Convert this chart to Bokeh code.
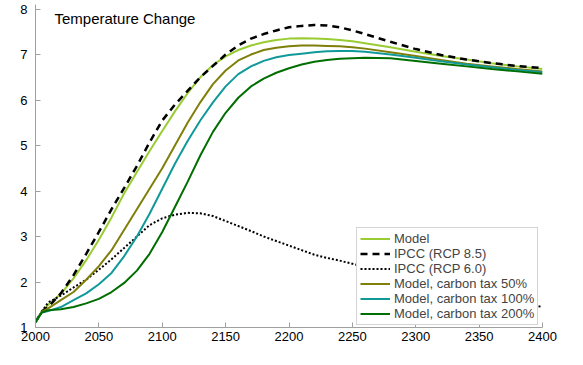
from bokeh.plotting import figure
from bokeh.models import Range1d, Label, Legend, LegendItem, FixedTicker
from bokeh.embed import file_html
from bokeh.resources import INLINE

years = [2000, 2005, 2010, 2020, 2030, 2040, 2050, 2060, 2070, 2080, 2090, 2100,
         2110, 2120, 2130, 2140, 2150, 2160, 2170, 2180, 2190, 2200, 2210, 2220,
         2230, 2240, 2250, 2260, 2280, 2300, 2320, 2340, 2360, 2380, 2400]

model = [1.12, 1.35, 1.5, 1.74, 2.08, 2.48, 2.93, 3.42, 3.95, 4.42, 4.88, 5.32,
         5.75, 6.15, 6.5, 6.77, 6.96, 7.1, 7.2, 7.27, 7.32, 7.35, 7.36, 7.35,
         7.34, 7.32, 7.29, 7.25, 7.16, 7.06, 6.97, 6.89, 6.81, 6.74, 6.68]

ipcc85 = [1.12, 1.35, 1.45, 1.75, 2.15, 2.62, 3.1, 3.6, 4.07, 4.55, 5.07, 5.55,
          5.9, 6.2, 6.5, 6.75, 7.0, 7.2, 7.35, 7.45, 7.53, 7.6, 7.63, 7.65,
          7.64, 7.6, 7.53, 7.45, 7.28, 7.12, 6.99, 6.89, 6.81, 6.75, 6.7]

ipcc60 = [1.12, 1.35, 1.55, 1.7, 1.88, 2.05, 2.27, 2.5, 2.75, 3.0, 3.25, 3.4,
          3.48, 3.52, 3.51, 3.45, 3.34, 3.23, 3.12, 3.0, 2.9, 2.8, 2.7, 2.6,
          2.53, 2.47, 2.4, 2.33, 2.19, 2.05, 1.92, 1.8, 1.68, 1.56, 1.45]

tax50 = [1.12, 1.35, 1.42, 1.6, 1.78, 2.05, 2.35, 2.7, 3.15, 3.6, 4.05, 4.5,
         5.0, 5.5, 5.95, 6.35, 6.65, 6.87, 7.0, 7.1, 7.15, 7.18, 7.2, 7.2,
         7.19, 7.18, 7.16, 7.13, 7.05, 6.97, 6.88, 6.8, 6.74, 6.68, 6.63]

tax100 = [1.12, 1.33, 1.36, 1.45, 1.6, 1.75, 1.95, 2.2, 2.57, 3.0, 3.5, 4.05,
          4.6, 5.1, 5.55, 5.95, 6.3, 6.57, 6.74, 6.86, 6.94, 6.99, 7.02, 7.05,
          7.07, 7.08, 7.08, 7.06, 7.0, 6.93, 6.85, 6.78, 6.72, 6.66, 6.61]

tax200 = [1.12, 1.33, 1.38, 1.4, 1.45, 1.53, 1.63, 1.78, 1.98, 2.25, 2.62, 3.1,
          3.65, 4.2, 4.78, 5.3, 5.72, 6.05, 6.3, 6.47, 6.6, 6.7, 6.78, 6.84,
          6.88, 6.91, 6.92, 6.93, 6.92, 6.86, 6.8, 6.74, 6.68, 6.63, 6.58]

x_ticks = [2000, 2050, 2100, 2150, 2200, 2250, 2300, 2350, 2400]
y_ticks = [1, 2, 3, 4, 5, 6, 7, 8]

FONT = "Liberation Sans"

p = figure(width=575, height=357, output_backend="svg", toolbar_location=None,
           x_range=Range1d(2000, 2400), y_range=Range1d(1, 8.1),
           min_border_left=35, min_border_right=33, min_border_top=4,
           min_border_bottom=30)
p.outline_line_color = None
p.xgrid.visible = False
p.ygrid.visible = False
p.background_fill_color = "white"
p.border_fill_color = "white"

for ax in (p.xaxis[0], p.yaxis[0]):
    ax.axis_line_color = "#a0a0a0"
    ax.major_tick_line_color = "#a0a0a0"
    ax.major_tick_in = 5
    ax.major_tick_out = 0
    ax.minor_tick_line_color = None
    ax.major_label_text_font = FONT
    ax.major_label_text_font_size = "13px"
    ax.major_label_text_color = "black"
p.xaxis.ticker = FixedTicker(ticks=x_ticks)
p.yaxis.ticker = FixedTicker(ticks=y_ticks)
p.xaxis.major_label_standoff = 4
p.yaxis.major_label_standoff = 8

r_model = p.line(years, model, line_color="#99cc33", line_width=2)
r_85 = p.line(years, ipcc85, line_color="black", line_width=2.5, line_dash="7 5")
r_60 = p.line(years, ipcc60, line_color="black", line_width=2, line_dash="2 2")
r_50 = p.line(years, tax50, line_color="#7f7f0a", line_width=2)
r_100 = p.line(years, tax100, line_color="#119999", line_width=2)
r_200 = p.line(years, tax200, line_color="#006e00", line_width=2)

legend = Legend(items=[
    LegendItem(label="Model", renderers=[r_model]),
    LegendItem(label="IPCC (RCP 8.5)", renderers=[r_85]),
    LegendItem(label="IPCC (RCP 6.0)", renderers=[r_60]),
    LegendItem(label="Model, carbon tax 50%", renderers=[r_50]),
    LegendItem(label="Model, carbon tax 100%", renderers=[r_100]),
    LegendItem(label="Model, carbon tax 200%", renderers=[r_200]),
], location=(321, 2))
legend.label_text_font = FONT
legend.label_text_font_size = "13px"
legend.label_height = 15
legend.glyph_height = 15
legend.glyph_width = 30
legend.spacing = 0
legend.padding = 3
legend.margin = 0
legend.label_standoff = 4
legend.border_line_color = "#aaaaaa"
legend.border_line_width = 1
legend.background_fill_color = "white"
legend.background_fill_alpha = 1
p.add_layout(legend, "center")

title = Label(x=2015, y=7.8, text="Temperature Change", text_font=FONT,
              text_font_size="15px", text_color="black", text_baseline="middle")
p.add_layout(title)

open("out.html", "w").write(file_html(p, INLINE))
